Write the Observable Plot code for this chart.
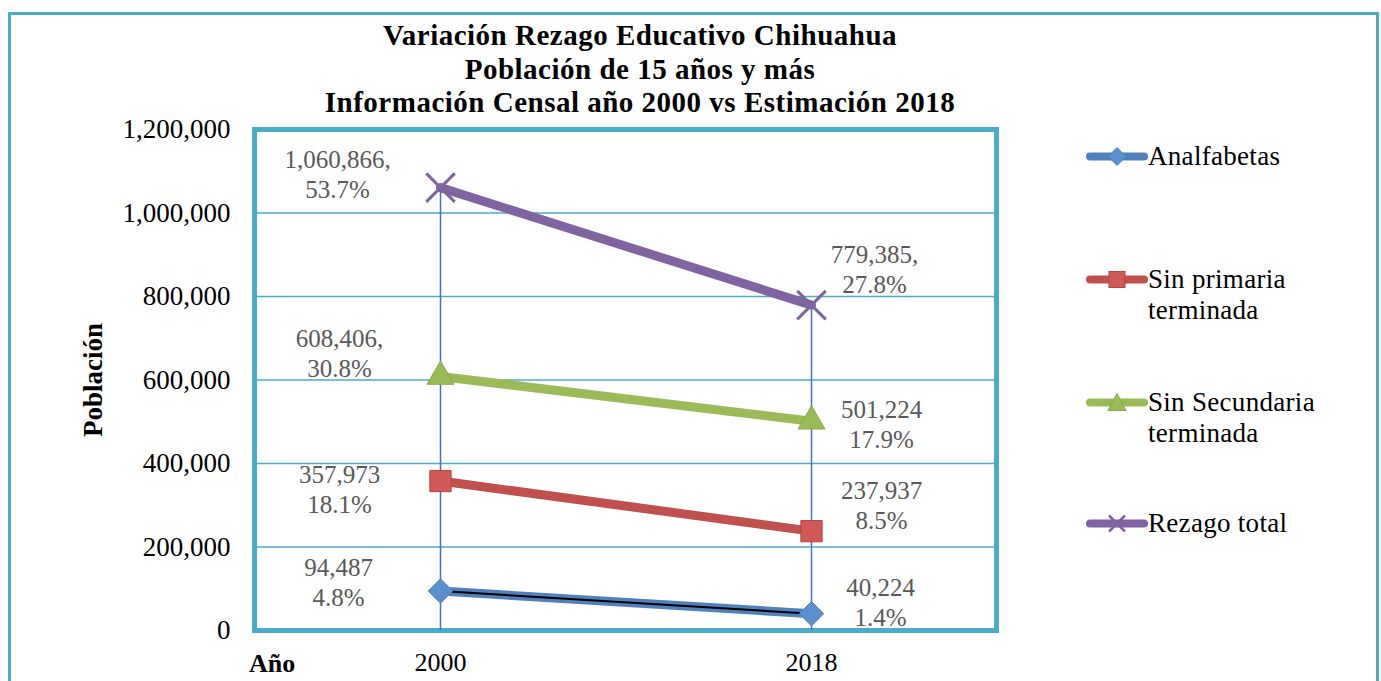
<!DOCTYPE html>
<html>
<head>
<meta charset="utf-8">
<script src="https://cdn.jsdelivr.net/npm/d3@7"></script>
<script src="https://cdn.jsdelivr.net/npm/@observablehq/plot@0.6"></script>
<style>
  html, body { margin: 0; padding: 0; background: #fff; }
  #wrap { position: relative; width: 1381px; height: 681px; overflow: hidden; font-family: "Liberation Serif", serif; }
  #outer { position: absolute; left: 8px; top: 12px; width: 1371px; height: 700px; border: 3px solid #4BACC6; box-sizing: border-box; }
  #chart { position: absolute; left: 0; top: 0; }
  #title { position: absolute; left: 190px; width: 900px; top: 19px; text-align: center; font-weight: bold; font-size: 29px; letter-spacing: 0.5px; line-height: 33.5px; color: #000; }
  #ylab { position: absolute; left: 93px; top: 380px; transform: translate(-50%, -50%) rotate(-90deg); font-weight: bold; font-size: 27px; white-space: nowrap; }
  #xlab { position: absolute; left: 249px; top: 649px; font-weight: bold; font-size: 26px; }
  .leg { position: absolute; left: 1086px; font-size: 27px; letter-spacing: 0.3px; line-height: 31px; color: #000; }
  .leg svg { position: absolute; left: 0; top: 0; }
  .leg span { position: absolute; left: 62px; top: 0; white-space: nowrap; }
</style>
</head>
<body>
<div id="wrap">
  <div id="outer"></div>
  <div id="chart"></div>
  <div id="title">Variación Rezago Educativo Chihuahua<br>Población de 15 años y más<br>Información Censal año 2000 vs Estimación 2018</div>
  <div id="ylab">Población</div>
  <div id="xlab">Año</div>
  <div id="legend"></div>
</div>
<script>
// ---- data ----
const years = ["2000", "2018"];
const seriesNames = ["Analfabetas", "Sin primaria terminada", "Sin Secundaria terminada", "Rezago total"];
const analfabetas = [94487, 40224];
const sinPrimaria = [357973, 237937];
const sinSecundaria = [608406, 501224];
const rezagoTotal = [1060866, 779385];
const labelsAnalfabetas = ["94,487\n4.8%", "40,224\n1.4%"];
const labelsSinPrimaria = ["357,973\n18.1%", "237,937\n8.5%"];
const labelsSinSecundaria = ["608,406,\n30.8%", "501,224\n17.9%"];
const labelsRezago = ["1,060,866,\n53.7%", "779,385,\n27.8%"];
const yTicks = [0, 200000, 400000, 600000, 800000, 1000000, 1200000];

const colors = ["#4F81BD", "#C0504D", "#9BBB59", "#8064A2"];
const valuesBySeries = [analfabetas, sinPrimaria, sinSecundaria, rezagoTotal];
const labelsBySeries = [labelsAnalfabetas, labelsSinPrimaria, labelsSinSecundaria, labelsRezago];

const data = [];
seriesNames.forEach((s, i) => years.forEach((yr, j) => data.push({
  series: s, year: yr, value: valuesBySeries[i][j], label: labelsBySeries[i][j]
})));
const tops = years.map((yr, j) => ({year: yr, top: d3.max(valuesBySeries, v => v[j])}));

const bySeries = s => data.filter(d => d.series === s);
const one = (s, yr) => data.filter(d => d.series === s && d.year === yr);

function label(s, yr, dx, dy) {
  return Plot.text(one(s, yr), {x: "year", y: "value", text: "label", dx, dy,
    fill: "#595959", fontSize: 25, lineHeight: 1.2, textAnchor: "middle"});
}

const chart = Plot.plot({
  width: 1381,
  height: 681,
  marginLeft: 254,
  marginRight: 385,
  marginTop: 129,
  marginBottom: 51,
  style: {fontFamily: "Liberation Serif, serif", fontSize: "27px", color: "#000", background: "transparent", overflow: "visible"},
  x: {type: "point", domain: years, padding: 0.5, label: null},
  y: {domain: [0, 1200000], label: null},
  marks: [
    Plot.gridY(yTicks, {stroke: "#4BACC6", strokeOpacity: 1, strokeWidth: 1.5}),
    Plot.frame({stroke: "#4BACC6", strokeWidth: 5}),
    Plot.ruleX(tops, {x: "year", y1: 0, y2: "top", stroke: "#4472C4", strokeWidth: 1.5}),
    Plot.axisY({ticks: yTicks, tickFormat: d3.format(","), tickSize: 0, tickPadding: 24, fontSize: 27, label: null}),
    Plot.axisX({tickSize: 0, tickPadding: 22, fontSize: 26, label: null}),
    ...seriesNames.map((s, i) => Plot.line(bySeries(s), {x: "year", y: "value", stroke: colors[i], strokeWidth: 9})),
    Plot.line(bySeries("Analfabetas"), {x: "year", y: "value", stroke: "#000", strokeWidth: 2}),
    Plot.dot(bySeries("Analfabetas"), {x: "year", y: "value", symbol: "diamond2", r: 11, fill: "#5B8FD0", stroke: "#4F81BD", strokeWidth: 1}),
    Plot.dot(bySeries("Sin primaria terminada"), {x: "year", y: "value", symbol: "square", r: 12, fill: "#D05A57", stroke: "#B8423F", strokeWidth: 1}),
    Plot.dot(bySeries("Sin Secundaria terminada"), {x: "year", y: "value", symbol: "triangle", r: 10, fill: "#9BBB59", stroke: "#8AAA48", strokeWidth: 1}),
    Plot.dot(bySeries("Rezago total"), {x: "year", y: "value", symbol: "times", r: 13, stroke: "#8064A2", strokeWidth: 3}),
    label("Rezago total", "2000", -103, -14),
    label("Rezago total", "2018", 63, -37),
    label("Sin Secundaria terminada", "2000", -101, -24),
    label("Sin Secundaria terminada", "2018", 70, 2),
    label("Sin primaria terminada", "2000", -101, 7),
    label("Sin primaria terminada", "2018", 70, -27),
    label("Analfabetas", "2000", -102, -10),
    label("Analfabetas", "2018", 69, -12)
  ]
});
document.getElementById("chart").appendChild(chart);

// ---- legend ----
const legendY = [156, 279, 402, 523];
const symbolIcons = [
  c => `<path d="M31,-9 L40,0 L31,9 L22,0Z" fill="#5B8FD0" stroke="${c}"/>`,
  c => `<rect x="23" y="-8" width="16" height="16" fill="#D05A57" stroke="#B8423F"/>`,
  c => `<path d="M31,-9 L40,8 L22,8Z" fill="#9BBB59" stroke="#8AAA48"/>`,
  c => `<path d="M23,-8 L39,8 M39,-8 L23,8" stroke="${c}" stroke-width="2.5"/>`
];
const leg = document.getElementById("legend");
seriesNames.forEach((s, i) => {
  const div = document.createElement("div");
  div.className = "leg";
  div.style.top = (legendY[i] - 15.5) + "px";
  const words = s.replace(" terminada", "\nterminada").split("\n");
  div.innerHTML = `<svg width="64" height="31" style="overflow:visible"><g transform="translate(0,15.5)">
      <line x1="4" x2="58" y1="0" y2="0" stroke="${colors[i]}" stroke-width="8" stroke-linecap="round"/>
      ${symbolIcons[i](colors[i])}</g></svg><span>${words.join("<br>")}</span>`;
  leg.appendChild(div);
});
</script>
</body>
</html>
